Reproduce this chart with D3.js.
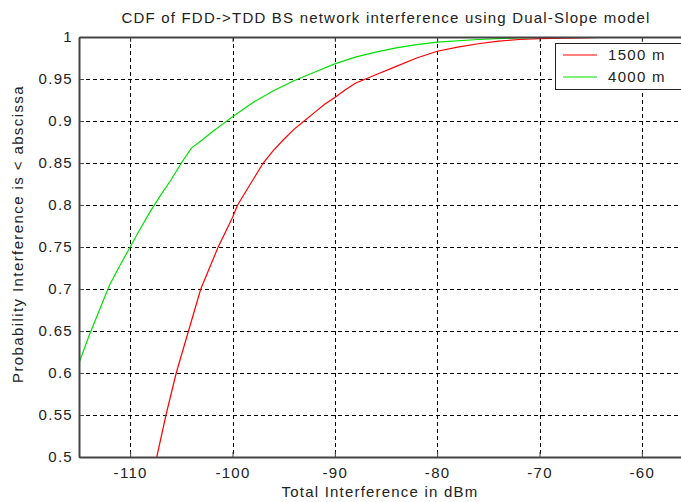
<!DOCTYPE html>
<html><head><meta charset="utf-8">
<script src="https://cdn.jsdelivr.net/npm/d3@7"></script>
<style>
body{margin:0;background:#fff;}
svg{display:block;font-family:"Liberation Sans",Arial,sans-serif;}
</style></head>
<body><svg id="c" width="681" height="502"></svg>
<script>
const title = "CDF of FDD->TDD BS network interference using Dual-Slope model";
const xLabel = "Total Interference in dBm";
const yLabel = "Probability Interference is < abscissa";
const xTicks = [-110,-100,-90,-80,-70,-60];
const yTicks = [0.5,0.55,0.6,0.65,0.7,0.75,0.8,0.85,0.9,0.95,1];
const seriesNames = ["1500 m","4000 m"];
const seriesColors = ["#ff0000","#00e000"];
const redX = [-107.4,-106.5,-105.5,-104.3,-103.1,-101.4,-100,-99.5,-98,-97,-96,-95,-94,-93,-92,-91,-90,-89,-88,-86,-84,-82,-80,-78,-76,-74,-72,-70,-66,-62,-55];
const redY = [0.5,0.55,0.6,0.65,0.7,0.75,0.785,0.8,0.83,0.85,0.865,0.878,0.89,0.9,0.91,0.92,0.928,0.937,0.945,0.955,0.965,0.975,0.983,0.988,0.992,0.995,0.997,0.998,0.999,1.0,1.0];
const greenX = [-115,-114,-113,-112,-111,-110,-109,-108,-107,-106,-105,-104,-103,-102,-101,-100,-98,-96,-94,-92,-90,-88,-86,-84,-82,-80,-76,-72,-68,-55];
const greenY = [0.612,0.645,0.675,0.705,0.728,0.75,0.772,0.793,0.812,0.83,0.85,0.868,0.877,0.887,0.896,0.905,0.922,0.936,0.948,0.958,0.968,0.976,0.982,0.987,0.991,0.994,0.997,0.999,1.0,1.0];

const svg = d3.select("#c");
const L=79, R=693, T=37, B=457;
const x = d3.scaleLinear().domain([-115,-55]).range([L,R]);
const y = d3.scaleLinear().domain([0.5,1]).range([B,T]);
const FS = 15, LS = 1.3;

svg.append("rect").attr("width",681).attr("height",502).attr("fill","#fff");
const defs = svg.append("defs");
defs.append("clipPath").attr("id","clip").append("rect").attr("x",L).attr("y",T).attr("width",R-L).attr("height",B-T);

// grid
const grid = svg.append("g").attr("stroke","#000").attr("stroke-width",1).attr("stroke-dasharray","4,3");
grid.selectAll(".gx").data(xTicks).join("line").attr("x1",d=>Math.round(x(d))+0.5).attr("x2",d=>Math.round(x(d))+0.5).attr("y1",T).attr("y2",B);
grid.selectAll(".gy").data(yTicks.filter(d=>d>0.5&&d<1)).join("line").attr("y1",d=>Math.round(y(d))+0.5).attr("y2",d=>Math.round(y(d))+0.5).attr("x1",L).attr("x2",R);

// lines
const line = d3.line().x(d=>x(d[0])).y(d=>y(d[1]));
const series = [d3.zip(redX,redY), d3.zip(greenX,greenY)];
const gl = svg.append("g").attr("clip-path","url(#clip)");
series.forEach((s,i)=>{
  gl.append("path").datum(s).attr("d",line).attr("fill","none").attr("stroke",seriesColors[i]).attr("stroke-width",1.2);
});

// axes
const axColor="#444";
const xb = svg.append("g").attr("transform",`translate(0,${B})`).call(d3.axisBottom(x).tickValues(xTicks).tickSizeInner(-5).tickSizeOuter(0).tickPadding(10).tickFormat(d=>String(d)));
const xt = svg.append("g").attr("transform",`translate(0,${T})`).call(d3.axisTop(x).tickValues(xTicks).tickSizeInner(-5).tickSizeOuter(0).tickFormat(""));
const yl = svg.append("g").attr("transform",`translate(${L},0)`).call(d3.axisLeft(y).tickValues(yTicks).tickSizeInner(-5).tickSizeOuter(0).tickPadding(6).tickFormat(d=>String(+d.toFixed(2))));
[xb,xt,yl].forEach(g=>{
  g.select(".domain").attr("stroke",axColor).attr("stroke-width",2);
  g.selectAll(".tick line").attr("stroke",axColor);
  g.selectAll("text").attr("fill","#222").attr("font-size",FS).attr("letter-spacing",LS).attr("font-family","Liberation Sans, Arial, sans-serif");
});

// title & labels
svg.append("text").attr("x",(L+R)/2).attr("y",23).attr("text-anchor","middle").attr("font-size",FS).attr("letter-spacing",1.2).attr("fill","#222").text(title);
svg.append("text").attr("x",(L+R)/2 - 6).attr("y",497).attr("text-anchor","middle").attr("font-size",FS).attr("letter-spacing",1.2).attr("fill","#222").text(xLabel);
svg.append("text").attr("transform",`translate(23,${(T+B)/2-13}) rotate(-90)`).attr("text-anchor","middle").attr("font-size",FS).attr("letter-spacing",1.4).attr("fill","#222").text(yLabel);

// legend
const lg = svg.append("g");
lg.append("rect").attr("x",555.5).attr("y",43.5).attr("width",131).attr("height",46).attr("fill","#fff").attr("stroke","#222").attr("stroke-width",1);
seriesNames.forEach((n,i)=>{
  const yy = 55 + i*22;
  lg.append("line").attr("x1",563).attr("x2",597).attr("y1",yy).attr("y2",yy).attr("stroke",seriesColors[i]).attr("stroke-width",1.2);
  lg.append("text").attr("x",608).attr("y",yy+5).attr("font-size",FS).attr("letter-spacing",LS).attr("fill","#222").text(n);
});
</script></body></html>
